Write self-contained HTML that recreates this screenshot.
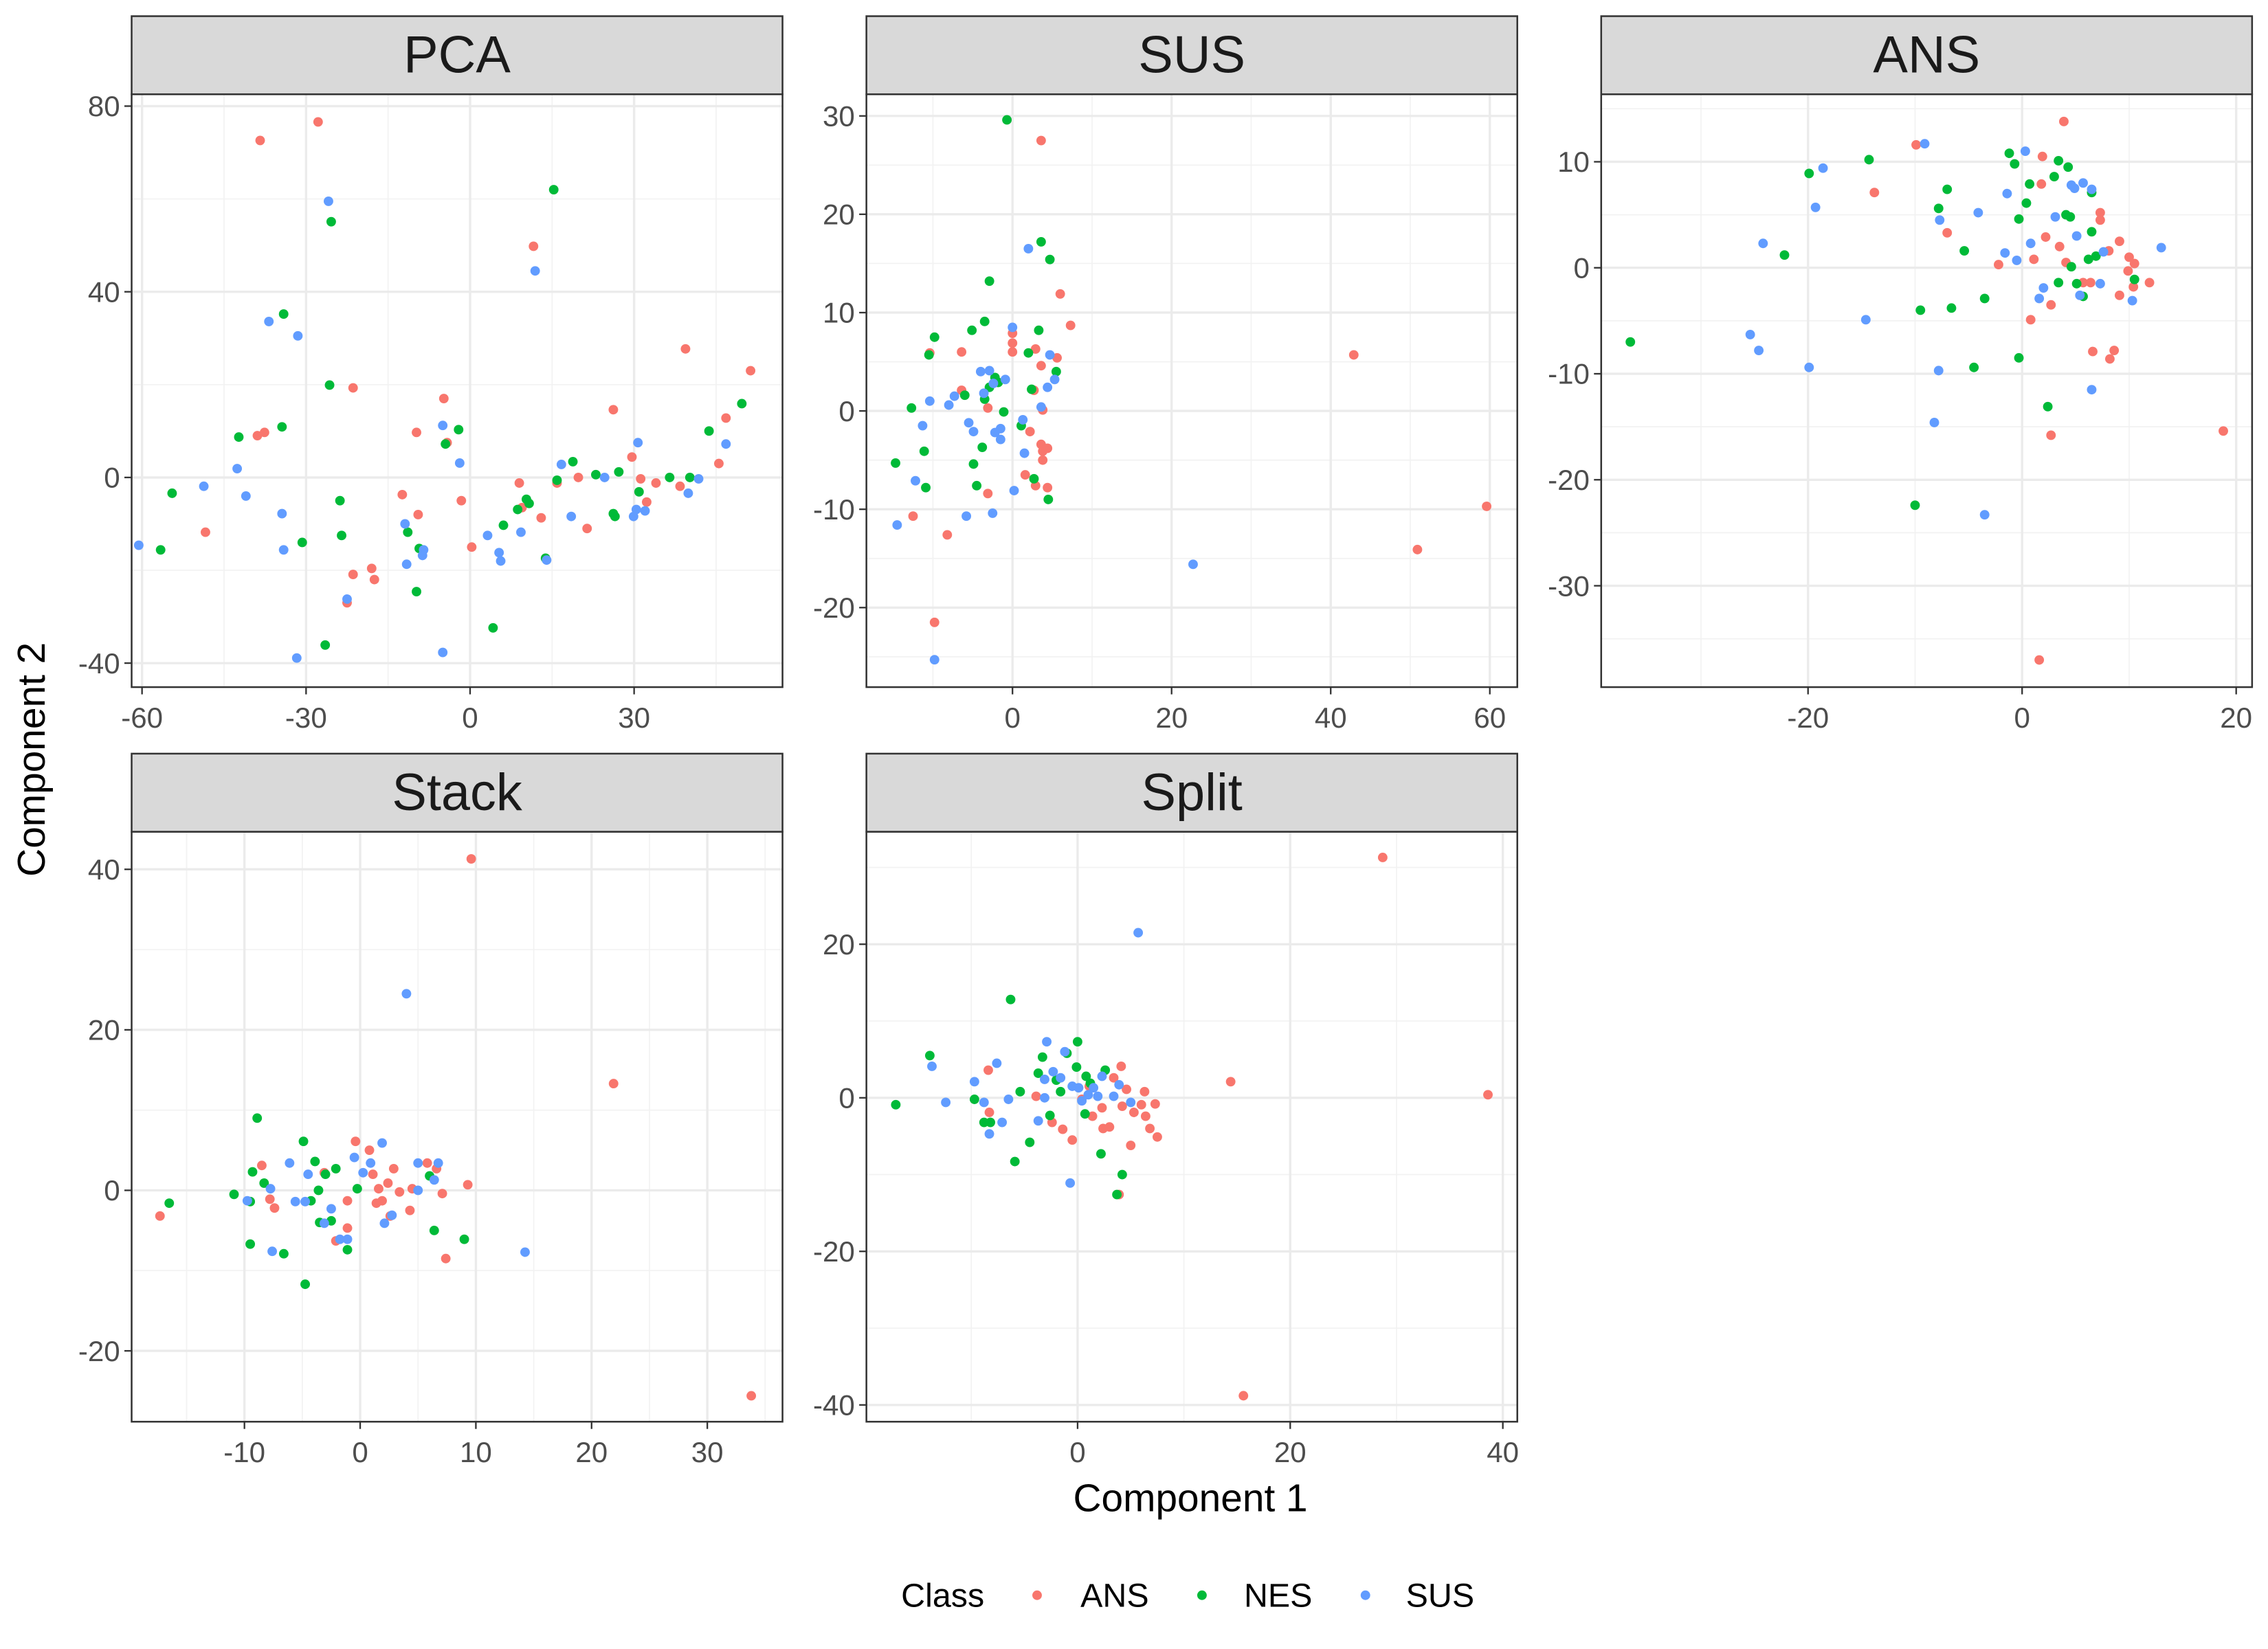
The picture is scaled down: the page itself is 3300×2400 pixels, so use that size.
<!DOCTYPE html>
<html><head><meta charset="utf-8"><style>
html,body{margin:0;padding:0;background:#fff;}
svg{display:block;}
text{font-family:"Liberation Sans",sans-serif;}
</style></head><body>
<svg id="chart" width="3300" height="2400" viewBox="0 0 1568 1140" xmlns="http://www.w3.org/2000/svg">
<rect x="0" y="0" width="1568" height="1140" fill="#fff"/>
<text x="823" y="1045" font-size="27" text-anchor="middle" fill="#000">Component 1</text>
<text x="0" y="0" font-size="27" text-anchor="middle" fill="#000" transform="translate(31,525) rotate(-90)">Component 2</text>
<g>
<text x="623" y="1111" font-size="23" fill="#000">Class</text>
<g><circle cx="717" cy="1103" r="3.3" fill="#F8766D"/><text x="747" y="1111" font-size="23" fill="#000">ANS</text></g>
<g><circle cx="831" cy="1103" r="3.3" fill="#00BA38"/><text x="860" y="1111" font-size="23" fill="#000">NES</text></g>
<g><circle cx="944" cy="1103" r="3.3" fill="#619CFF"/><text x="972" y="1111" font-size="23" fill="#000">SUS</text></g>
</g>
</svg>
<script>
// ---- data (Component 1 = x, Component 2 = y) ----
const classes = ["ANS","NES","SUS"];
const pca_ANS_x = [-38.4,-27.8,-38.9,-37.6,-48.4,-21.4,-21.4,-22.5,-18,-17.5,-12.4,-9.8,-9.5,-4.8,-4.2,-1.6,0.3,9,11.6,13,19.8,21.4,26.2,29.6,31.2,32.3,39.4,38.4,45.5,46.8,51.3,9.5,15.9,34];
const pca_ANS_y = [72.6,76.6,9,9.7,-11.8,19.3,-20.9,-27,-19.6,-22,-3.7,9.7,-8,17,7.5,-5,-15,-1.2,49.8,-8.7,0,-11,14.6,4.4,-0.3,-5.3,27.7,-1.9,3,12.8,23,-6.5,-1.2,-1.2];
const pca_NES_x = [-56.6,-54.5,-42.3,-34.1,-34.4,-30.7,-26.5,-25.4,-25.7,-23.8,-23.5,-11.4,-9.8,-9.3,-4.5,-2.1,4.2,6.1,8.7,10.3,10.8,15.3,13.8,15.9,18.8,23,26.5,27.2,30.9,36.5,40.2,43.7,49.7,26.2];
const pca_NES_y = [-15.6,-3.4,8.7,35.2,10.9,-14,-36.1,55.1,19.9,-5,-12.5,-11.8,-24.6,-15.3,7.2,10.3,-32.4,-10.3,-6.9,-4.7,-5.6,62,-17.4,-0.6,3.4,0.6,-8.4,1.2,-3.1,0,0,10,15.9,-7.8];
const pca_SUS_x = [-60.6,-48.7,-42.6,-41,-36.8,-34.4,-34.1,-31.5,-31.7,-25.9,-22.5,-11.9,-11.6,-8.7,-8.5,-5,-5,-1.9,3.2,5.3,5.6,11.9,14,16.7,18.5,9.3,24.6,30.7,30.4,29.9,32,39.9,41.8,46.8];
const pca_SUS_y = [-14.6,-1.9,1.9,-4,33.6,-7.8,-15.6,30.5,-38.9,59.5,-26.2,-10,-18.7,-16.8,-15.6,11.2,-37.7,3.1,-12.5,-16.2,-18,44.5,-17.8,2.8,-8.4,-11.8,0,7.5,-6.9,-8.4,-7.2,-3.4,-0.3,7.2];

const sus_ANS_x = [3.6,-10.4,-6.4,-12.5,-8.2,-9.8,-3.1,0,0,0,2.9,6,7.3,3.6,2.7,3.8,3.6,3.8,3.8,2.2,1.6,2.9,-3.1,-6.4,5.6,42.9,50.9,59.6,4.4,4.4];
const sus_ANS_y = [27.5,5.9,6,-10.7,-12.6,-21.5,-8.4,7.9,6.9,6,6.3,11.9,8.7,4.6,2.1,0.1,-3.4,-4.1,-5,-2.1,-6.5,-7.6,0.3,2.1,5.4,5.7,-14.1,-9.7,-7.8,-3.8];
const sus_NES_x = [-0.7,3.6,4.7,-2.9,-9.8,-10.5,-12.7,-14.7,-11.1,-10.9,-5.1,-3.5,-2.2,-1.8,-2.9,-3.5,-6,-4.9,-4.5,-1.1,1.1,2,3.3,5.5,2.4,2.7,4.5,-3.8];
const sus_NES_y = [29.6,17.2,15.4,13.2,7.5,5.7,0.3,-5.3,-4.1,-7.8,8.2,9.1,3.4,2.9,2.4,1.2,1.6,-5.4,-7.6,-0.1,-1.5,5.9,8.2,4,2.2,-6.9,-9,-3.7];
const sus_SUS_x = [2,-10.4,-14.5,-12.2,-11.3,-9.8,-8,-7.3,-5.5,-4.9,-5.8,-2.5,-4,-2.9,-2.4,-3.6,-0.9,-1.5,0,1.3,1.5,3.6,0.2,4.7,4.4,5.3,22.7,-1.5,-2.2];
const sus_SUS_y = [16.5,1,-11.6,-7.1,-1.5,-25.3,0.6,1.5,-1.2,-2.1,-10.7,-10.4,4,4.1,2.8,1.8,3.2,-2.9,8.5,-0.9,-4.3,0.4,-8.1,5.7,2.4,3.2,-15.6,-1.8,-2.2];

const ans_ANS_x = [-13.8,-9.9,1.9,3.9,2.2,3.5,4.1,0.8,2.7,2.7,1.6,7.3,7.3,8.1,9.1,10,10.5,11.9,9.9,9.1,5.7,6.4,6.6,8.6,8.2,10.4,18.8,-7,1.1,-2.2,1.8];
const ans_ANS_y = [7.1,11.6,10.5,13.8,2.9,2,0.5,-4.9,-3.5,-15.8,-37,5.2,4.5,1.6,2.5,1,0.4,-1.4,-0.3,-2.6,-1.4,-1.4,-7.9,-7.8,-8.6,-1.8,-15.4,3.3,0.8,0.3,7.9];
const ans_NES_x = [-36.6,-22.2,-19.9,-14.3,-10,-9.5,-7.8,-7,-6.6,-5.4,-4.5,-3.5,-1.2,-0.7,-0.3,-0.3,0.4,0.7,2.4,3,3.4,4.3,4.1,4.5,4.6,5.1,5.7,6.2,6.5,6.5,10.5,3.4,6.9];
const ans_NES_y = [-7,1.2,8.9,10.2,-22.4,-4,5.6,7.4,-3.8,1.6,-9.4,-2.9,10.8,9.8,-8.5,4.6,6.1,7.9,-13.1,8.6,10.1,9.5,5,4.8,0.1,-1.5,-2.7,0.8,3.4,7.1,-1.1,-1.4,1.1];
const ans_SUS_x = [-24.2,-25.4,-24.6,-19.9,-19.3,-18.6,-14.6,-9.1,-8.2,-7.7,-7.8,-4.1,-3.5,-1.6,-1.4,-0.5,0.3,0.8,1.6,3.1,4.6,4.9,5.1,5.4,5.7,6.5,7.3,7.6,10.3,13,6.5,2];
const ans_SUS_y = [2.3,-6.3,-7.8,-9.4,5.7,9.4,-4.9,11.7,-14.6,4.5,-9.7,5.2,-23.3,1.4,7,0.7,11,2.3,-2.9,4.8,7.8,7.5,3,-2.6,8,-11.5,-1.5,1.5,-3.1,1.9,7.4,-1.9];

const stack_ANS_x = [-17.3,-8.5,-7.8,-7.4,-1.1,-3.1,-2.1,-1.1,-0.4,0.8,1.1,1.6,1.9,2.4,2.9,3.4,4.3,4.5,5.8,6.6,7.1,7.4,9.3,9.6,21.9,33.8,2.6,1.4];
const stack_ANS_y = [-3.2,3.1,-1.1,-2.2,-1.3,2.2,-6.3,-4.7,6.1,5,2,0.2,-1.3,0.9,2.7,-0.2,-2.5,0.2,3.4,2.7,-0.4,-8.5,0.7,41.3,13.3,-25.6,-3.2,-1.6];
const stack_NES_x = [-16.5,-10.9,-9.5,-9.5,-9.3,-8.9,-8.3,-6.6,-4.9,-4.75,-3.9,-3.6,-3.5,-3,-2.5,-2.1,-1.1,-0.25,6,6.4,9,-4.25];
const stack_NES_y = [-1.6,-0.5,-1.4,-6.7,2.3,9,0.9,-7.9,6.1,-11.7,3.6,0,-4,2,-3.8,2.7,-7.4,0.2,1.8,-5,-6.1,-1.3];
const stack_SUS_x = [-9.75,-7.75,-7.6,-6.1,-5.6,-4.75,-4.5,-3.1,-1.75,-1.1,-0.5,0.25,0.9,1.9,2.1,2.75,4,5,5,6.75,6.4,14.25,-2.5];
const stack_SUS_y = [-1.3,0.2,-7.6,3.4,-1.4,-1.4,2,-4.1,-6.1,-6.1,4.1,2.2,3.4,5.9,-4.1,-3.1,24.5,0,3.4,3.4,1.3,-7.7,-2.3];

const split_ANS_x = [-8.4,-8.3,-3.9,-2.4,-1.4,-0.5,0.4,1.1,1.4,2.4,3,3.4,4.1,4.2,4.6,5,5.3,6,6.3,6.4,6.8,7.3,7.5,3.9,14.4,28.7,38.6,15.6,2.3];
const split_ANS_y = [3.6,-1.9,0.2,-3.2,-4.1,-5.5,-0.2,1.5,-2.4,-4,-3.8,2.6,4.1,-1.1,1.1,-6.2,-1.9,-0.9,0.8,-2.4,-4,-0.8,-5.1,-12.6,2.1,31.3,0.4,-38.8,-1.3];
const split_NES_x = [-17.1,-13.9,-9.7,-8.8,-8.2,-6.3,-5.9,-5.4,-4.5,-3.7,-3.3,-2.6,-2,-0.1,0,0.7,0.8,1.2,2.2,2.6,3.7,4.2,-1,-1.6];
const split_NES_y = [-0.9,5.5,-0.2,-3.2,-3.2,12.8,-8.3,0.8,-5.8,3.2,5.3,-2.3,2.3,4,7.3,-2.1,2.8,1.9,-7.3,3.6,-12.6,-10,5.8,0.8];
const split_SUS_x = [-13.7,-12.4,-9.7,-8.8,-8.3,-7.6,-7.1,-6.5,-3.7,-3.1,-3.1,-2.9,-2.3,-1.6,-1.2,-0.7,-0.5,0.1,0.4,1,1.5,1.9,2.3,3.4,3.9,5.7,5];
const split_SUS_y = [4.1,-0.6,2.1,-0.6,-4.7,4.5,-3.2,-0.2,-3,2.4,0,7.3,3.4,2.6,6,-11.1,1.5,1.3,-0.4,0.4,1.3,0.2,2.8,0.2,1.7,21.5,-0.6];

const panelTitles = ["PCA","SUS","ANS","Stack","Split"];
const pca_xTicks = [-60,-30,0,30], pca_yTicks = [-40,0,40,80];
const sus_xTicks = [0,20,40,60], sus_yTicks = [-20,-10,0,10,20,30];
const ans_xTicks = [-20,0,20], ans_yTicks = [-30,-20,-10,0,10];
const stack_xTicks = [-10,0,10,20,30], stack_yTicks = [-20,0,20,40];
const split_xTicks = [0,20,40], split_yTicks = [-40,-20,0,20];

// ---- layout (pixel geometry in 1568x1140 viewBox) ----
const colors = {ANS:"#F8766D", NES:"#00BA38", SUS:"#619CFF"};
const panels = [
 {key:"pca", title:panelTitles[0], L:91,R:541,T:65,B:475, x0:325,xs:3.78, y0:330,ys:3.21, xt:pca_xTicks, yt:pca_yTicks,
  data:{ANS:[pca_ANS_x,pca_ANS_y],NES:[pca_NES_x,pca_NES_y],SUS:[pca_SUS_x,pca_SUS_y]}},
 {key:"sus", title:panelTitles[1], L:599,R:1049,T:65,B:475, x0:700,xs:5.5, y0:284,ys:6.8, xt:sus_xTicks, yt:sus_yTicks,
  data:{ANS:[sus_ANS_x,sus_ANS_y],NES:[sus_NES_x,sus_NES_y],SUS:[sus_SUS_x,sus_SUS_y]}},
 {key:"ans", title:panelTitles[2], L:1107,R:1557,T:65,B:475, x0:1398,xs:7.4, y0:185,ys:7.33, xt:ans_xTicks, yt:ans_yTicks,
  data:{ANS:[ans_ANS_x,ans_ANS_y],NES:[ans_NES_x,ans_NES_y],SUS:[ans_SUS_x,ans_SUS_y]}},
 {key:"stack", title:panelTitles[3], L:91,R:541,T:575,B:983, x0:249,xs:8, y0:823,ys:5.55, xt:stack_xTicks, yt:stack_yTicks,
  data:{ANS:[stack_ANS_x,stack_ANS_y],NES:[stack_NES_x,stack_NES_y],SUS:[stack_SUS_x,stack_SUS_y]}},
 {key:"split", title:panelTitles[4], L:599,R:1049,T:575,B:983, x0:745,xs:7.35, y0:759,ys:5.31, xt:split_xTicks, yt:split_yTicks,
  data:{ANS:[split_ANS_x,split_ANS_y],NES:[split_NES_x,split_NES_y],SUS:[split_SUS_x,split_SUS_y]}}
];
const NS = "http://www.w3.org/2000/svg";
const svg = document.getElementById("chart");
function mk(tag, attrs, parent){ const e=document.createElementNS(NS,tag); for(const k in attrs) e.setAttribute(k,attrs[k]); (parent||svg).appendChild(e); return e; }

panels.forEach(p=>{
  const sx = v => p.x0 + v*p.xs;
  const sy = v => p.y0 - v*p.ys;
  const g = mk("g",{});
  
  
  const bg = mk("rect",{x:p.L,y:p.T,width:p.R-p.L,height:p.B-p.T,fill:"#fff"},g);
  
  
  // minor grid
  const xstep = p.xt[1]-p.xt[0], ystep = p.yt[1]-p.yt[0];
  for(let v=p.xt[0]-xstep*3.5; v<=p.xt[p.xt.length-1]+xstep*3; v+=xstep){
    const X=sx(v); if(X>p.L && X<p.R){ const l=mk("line",{x1:X,x2:X,y1:p.T,y2:p.B,stroke:"#F2F2F2","stroke-width":0.8},g);
        }
  }
  for(let v=p.yt[0]-ystep*3.5; v<=p.yt[p.yt.length-1]+ystep*3; v+=ystep){
    const Y=sy(v); if(Y>p.T && Y<p.B){ const l=mk("line",{x1:p.L,x2:p.R,y1:Y,y2:Y,stroke:"#F2F2F2","stroke-width":0.8},g);
        }
  }
  // major grid + ticks + labels
  p.xt.forEach(v=>{ const X=sx(v);
    const l=mk("line",{x1:X,x2:X,y1:p.T,y2:p.B,stroke:"#EBEBEB","stroke-width":1.6},g);
     
    const t=mk("line",{x1:X,x2:X,y1:p.B,y2:p.B+5,stroke:"#333","stroke-width":1.1},g);
     
    const tx=mk("text",{x:X,y:p.B+28,"font-size":20,"text-anchor":"middle",fill:"#4D4D4D"},g);
    tx.textContent = v;
     
  });
  p.yt.forEach(v=>{ const Y=sy(v);
    const l=mk("line",{x1:p.L,x2:p.R,y1:Y,y2:Y,stroke:"#EBEBEB","stroke-width":1.6},g);
     
    const t=mk("line",{x1:p.L-5,x2:p.L,y1:Y,y2:Y,stroke:"#333","stroke-width":1.1},g);
     
    const tx=mk("text",{x:p.L-8,y:Y+7,"font-size":20,"text-anchor":"end",fill:"#4D4D4D"},g);
    tx.textContent = v;
     
  });
  // points
  classes.forEach(c=>{
    const xs=p.data[c][0], ys=p.data[c][1];
    for(let i=0;i<xs.length;i++){
      const X=sx(xs[i]), Y=sy(ys[i]);
      const pt=mk("circle",{cx:X,cy:Y,r:3.3,fill:colors[c]},g);
      
      
    }
  });
  const border=mk("rect",{x:p.L,y:p.T,width:p.R-p.L,height:p.B-p.T,fill:"none",stroke:"#333","stroke-width":1.2},g);
   
  // strip
  const st=mk("rect",{x:p.L,y:p.T-54,width:p.R-p.L,height:54,fill:"#D9D9D9",stroke:"#333","stroke-width":1.2},g);
   
  const stt=mk("text",{x:(p.L+p.R)/2,y:p.T-15,"font-size":36,"text-anchor":"middle",fill:"#1A1A1A"},g);
  stt.textContent = p.title;
   
});
</script>
</body></html>
